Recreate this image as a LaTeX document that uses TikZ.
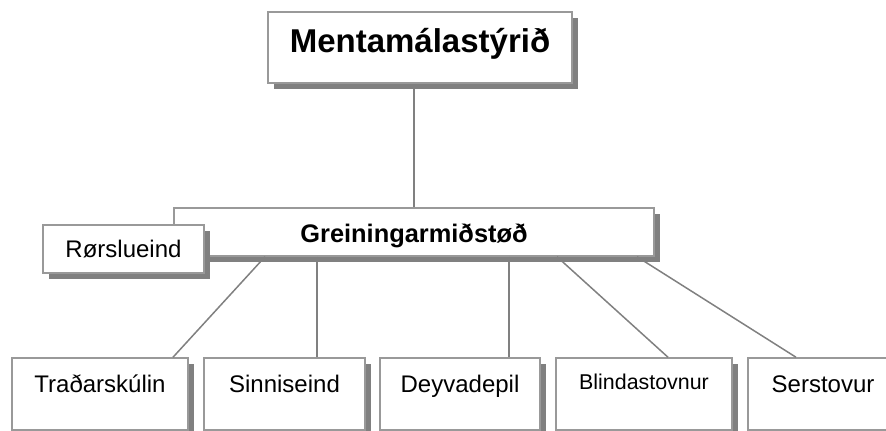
\documentclass[tikz,border=0pt]{standalone}
\usepackage{fontspec}
\setmainfont{Liberation Sans}
\usetikzlibrary{shadows}

\definecolor{rammi}{gray}{0.6}
\definecolor{skuggi}{gray}{0.5}

\tikzset{
  eind/.style={draw=rammi, line width=0.75pt, fill=white, inner sep=0pt,
    drop shadow={shadow xshift=3pt, shadow yshift=-3pt, fill=skuggi, opacity=1}},
  botn/.style={eind, minimum width=#1, text height=17.5pt, text depth=18.5pt,
    font=\fontsize{12}{14}\selectfont},
  lina/.style={draw=skuggi, line width=0.75pt}
}

\begin{document}
\begin{tikzpicture}[x=0.5pt, y=-0.5pt]
    \useasboundingbox (0,0) rectangle (886,431);

    % Ovast
    \node[eind, minimum width=152pt, text height=20.5pt, text depth=15pt,
          font=\bfseries\fontsize{16.5}{20}\selectfont] (mentamal) at (420,47.5) {Mentamálastýrið};

    % Miðja
    \node[eind, minimum width=240pt, text height=17.5pt, text depth=6.5pt,
          font=\bfseries\fontsize{12.7}{14}\selectfont] (greining) at (414,232) {Greiningarmiðstøð};
    \node[eind, minimum width=80.5pt, text height=16.5pt, text depth=7.5pt,
          font=\fontsize{12}{14}\selectfont] (rorsl) at (123.5,249) {Rørslueind};

    % Niðast
    \node[botn=88pt] (tradar) at (100,394) {Traðarskúlin};
    \node[botn=80.5pt] (sinni) at (284.5,394) {Sinniseind};
    \node[botn=80pt] (deyva) at (460,394) {Deyvadepil};
    \node[botn=88pt, text height=16pt, text depth=20pt,
          font=\fontsize{10.7}{13}\selectfont] (blinda) at (644,394) {Blindastovnur};
    \node[botn=75pt] (serst) at (823,394) {Serstovur};

    % Linjur
    \draw[lina] (greining.north) -- (greining.north |- mentamal.south);
    \draw[lina] ([xshift=-74.5pt]greining.south) -- ([xshift=36.5pt]tradar.north);
    \draw[lina] ([xshift=-48.5pt]greining.south) -- ([xshift=16.25pt]sinni.north);
    \draw[lina] ([xshift=47.5pt]greining.south) -- ([xshift=24.5pt]deyva.north);
    \draw[lina] ([xshift=71.5pt]greining.south) -- ([xshift=12pt]blinda.north);
    \draw[lina] ([xshift=111.5pt]greining.south) -- ([xshift=-13.5pt]serst.north);
\end{tikzpicture}
\end{document}
